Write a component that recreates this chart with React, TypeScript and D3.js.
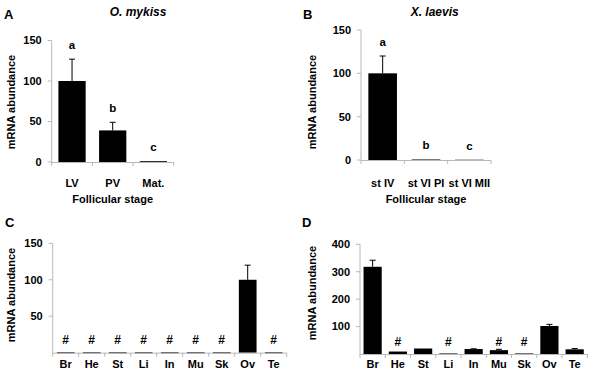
import React from "react";
import * as d3 from "d3";

const stagesA = ["LV", "PV", "Mat."];
const valuesA = [100, 39, 1];
const errorsA = [27, 10, 0];
const lettersA = ["a", "b", "c"];

const stagesB = ["st IV", "st VI PI", "st VI MII"];
const valuesB = [100, 0.6, 0.3];
const errorsB = [20, 0, 0];
const lettersB = ["a", "b", "c"];

const tissues = ["Br", "He", "St", "Li", "In", "Mu", "Sk", "Ov", "Te"];
const valuesC = [0.5, 0.5, 0.5, 0.5, 0.5, 0.5, 0.5, 100, 0.5];
const errorsC = [0, 0, 0, 0, 0, 0, 0, 20, 0];
const hashC = [true, true, true, true, true, true, true, false, true];

const valuesD = [318, 9, 20, 2, 18, 14, 2, 102, 17];
const errorsD = [24, 0, 0, 0, 1, 3, 0, 6, 3];
const hashD = [false, true, false, true, false, true, true, false, false];

const FONT = "'Liberation Sans', Arial, sans-serif";
const AXIS = "#b8b8b8";

type PanelProps = {
  cats: string[];
  values: number[];
  errors: number[];
  marks: (string | null)[];
  markFixed: boolean;
  x0: number;
  x1: number;
  yBottom: number;
  yTop: number;
  domainMax: number;
  ticks: number[];
  barFrac: number;
  panel: string;
  panelX: number;
  panelY: number;
  title?: string;
  titleX?: number;
  yLabelX: number;
  yLabelY: number;
  xTitle?: string;
  labelY: number;
};

function Panel(p: PanelProps) {
  const x = d3.scaleBand<string>().domain(p.cats).range([p.x0, p.x1]).paddingInner(0).paddingOuter(0);
  const y = d3.scaleLinear().domain([0, p.domainMax]).range([p.yBottom, p.yTop]);
  const bw = x.bandwidth() * p.barFrac;
  const bounds = p.cats.map((c) => x(c)!).concat([p.x1]);
  return (
    <g>
      <text x={p.panelX} y={p.panelY} fontFamily={FONT} fontWeight="bold" fontSize={13}>
        {p.panel}
      </text>
      {p.title && (
        <text x={p.titleX} y={16} textAnchor="middle" fontFamily={FONT} fontWeight="bold" fontStyle="italic" fontSize={12}>
          {p.title}
        </text>
      )}
      <text
        transform={`translate(${p.yLabelX},${p.yLabelY}) rotate(-90)`}
        textAnchor="middle"
        dominantBaseline="central"
        fontFamily={FONT}
        fontWeight="bold"
        fontSize={11}
      >
        mRNA abundance
      </text>
      <line x1={p.x0} x2={p.x0} y1={p.yBottom} y2={y(p.domainMax)} stroke={AXIS} strokeWidth={1} />
      {p.ticks.map((t) => (
        <g key={t}>
          <line x1={p.x0 - 4} x2={p.x0} y1={y(t)} y2={y(t)} stroke={AXIS} />
          <text x={p.x0 - 10} y={y(t)} dy="0.35em" textAnchor="end" fontFamily={FONT} fontWeight="bold" fontSize={11}>
            {t}
          </text>
        </g>
      ))}
      {p.cats.map((c, i) => {
        const cx = x(c)! + x.bandwidth() / 2;
        const top = y(p.values[i]);
        const etop = y(p.values[i] + p.errors[i]);
        return (
          <g key={c}>
            {p.errors[i] > 0 && (
              <g>
                <line x1={cx} x2={cx} y1={top} y2={etop} stroke="#000" strokeWidth={1} />
                <line x1={cx - 3} x2={cx + 3} y1={etop} y2={etop} stroke="#000" strokeWidth={1} />
              </g>
            )}
            <rect x={cx - bw / 2} y={top} width={bw} height={Math.max(p.yBottom - top, 1)} fill="#000" />
            {p.marks[i] && (
              <text
                x={cx}
                y={p.markFixed ? p.yBottom - 8.5 : etop - 10}
                textAnchor="middle"
                fontFamily={FONT}
                fontWeight="bold"
                fontSize={p.markFixed ? 12 : 11.5}
              >
                {p.marks[i]}
              </text>
            )}
            <text x={cx} y={p.labelY} textAnchor="middle" fontFamily={FONT} fontWeight="bold" fontSize={11}>
              {c}
            </text>
          </g>
        );
      })}
      <line x1={p.x0} x2={p.x1} y1={p.yBottom + 0.5} y2={p.yBottom + 0.5} stroke={AXIS} />
      {bounds.map((b, i) => (
        <line key={i} x1={b} x2={b} y1={p.yBottom} y2={p.yBottom + 4} stroke={AXIS} />
      ))}
      {p.xTitle && (
        <text x={(p.x0 + p.x1) / 2} y={p.labelY + 16} textAnchor="middle" fontFamily={FONT} fontWeight="bold" fontSize={11}>
          {p.xTitle}
        </text>
      )}
    </g>
  );
}

export default function App() {
  return (
    <svg width={600} height={375} style={{ position: "absolute", left: 0, top: 0, background: "#fff" }}>
      <Panel
        cats={stagesA}
        values={valuesA}
        errors={errorsA}
        marks={lettersA}
        markFixed={false}
        x0={51.7}
        x1={173.7}
        yBottom={162}
        yTop={40.5}
        domainMax={150}
        ticks={[0, 50, 100, 150]}
        barFrac={0.67}
        panel="A"
        panelX={4}
        panelY={19}
        title="O. mykiss"
        titleX={138}
        yLabelX={11}
        yLabelY={102}
        xTitle="Follicular stage"
        labelY={187}
      />
      <Panel
        cats={stagesB}
        values={valuesB}
        errors={errorsB}
        marks={lettersB}
        markFixed={false}
        x0={361}
        x1={491}
        yBottom={160}
        yTop={30}
        domainMax={150}
        ticks={[0, 50, 100, 150]}
        barFrac={0.66}
        panel="B"
        panelX={303}
        panelY={19}
        title="X. laevis"
        titleX={434.7}
        yLabelX={311.7}
        yLabelY={102}
        xTitle="Follicular stage"
        labelY={187}
      />
      <Panel
        cats={tissues}
        values={valuesC}
        errors={errorsC}
        marks={hashC.map((h) => (h ? "#" : null))}
        markFixed={true}
        x0={52.7}
        x1={286.7}
        yBottom={352.7}
        yTop={243.3}
        domainMax={150}
        ticks={[50, 100, 150]}
        barFrac={0.68}
        panel="C"
        panelX={5}
        panelY={227}
        yLabelX={11}
        yLabelY={295}
        labelY={368}
      />
      <Panel
        cats={tissues}
        values={valuesD}
        errors={errorsD}
        marks={hashD.map((h) => (h ? "#" : null))}
        markFixed={true}
        x0={360}
        x1={587.3}
        yBottom={354}
        yTop={244.3}
        domainMax={400}
        ticks={[100, 200, 300, 400]}
        barFrac={0.72}
        panel="D"
        panelX={302}
        panelY={227}
        yLabelX={311.7}
        yLabelY={293}
        labelY={368}
      />
    </svg>
  );
}
